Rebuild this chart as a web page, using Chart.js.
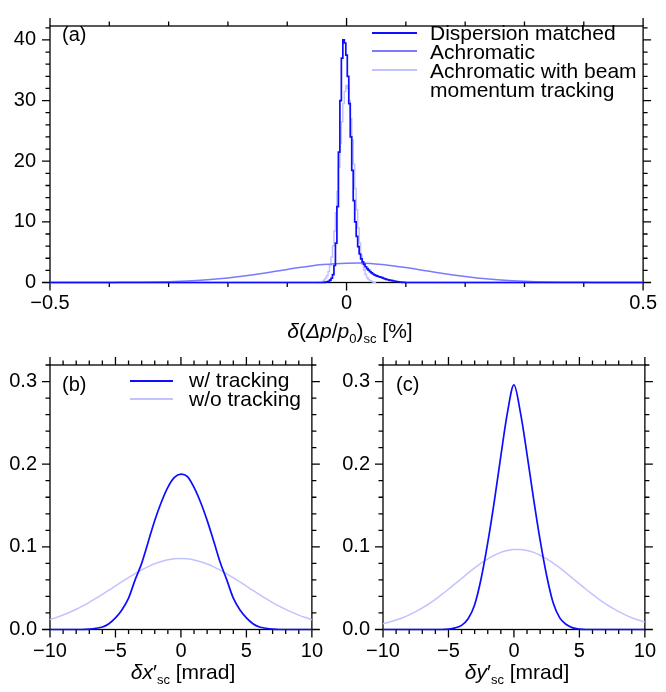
<!DOCTYPE html>
<html>
<head>
<meta charset="utf-8">
<script src="https://cdn.jsdelivr.net/npm/chart.js@4.4.1/dist/chart.umd.min.js"></script>
<style>
  body { margin: 0; background: #fff; font-family: 'Liberation Sans', Arial, sans-serif; color: #000; }
  #wrap { position: relative; width: 666px; height: 692px; overflow: hidden; }
  canvas { position: absolute; }
  .txt { position: absolute; font-size: 21px; line-height: 19px; white-space: nowrap; }
  .lbl { position: absolute; font-size: 20px; line-height: 20px; white-space: nowrap; }
  .ttl { position: absolute; font-size: 21px; line-height: 21px; white-space: nowrap; text-align: center; }
  .sub { font-size: 13px; position: relative; top: 5px; }
  .sw { position: absolute; height: 2px; z-index: 2; }
</style>
</head>
<body>
<div id="wrap">
  <canvas id="chart-a" width="666" height="320" style="left:0;top:0"></canvas>
  <canvas id="chart-b" width="333" height="352" style="left:0;top:340px"></canvas>
  <canvas id="chart-c" width="333" height="352" style="left:333px;top:340px"></canvas>

  <!-- panel (a) -->
  <div class="lbl" style="left:62px;top:24px">(a)</div>
  <div class="txt" style="left:430px;top:23px">Dispersion matched<br>Achromatic<br>Achromatic with beam<br>momentum tracking</div>
  <div class="sw" style="left:372px;top:32px;width:45px;background-color:#0d0dff"></div>
  <div class="sw" style="left:372px;top:50px;width:45px;background-color:#7a7aff"></div>
  <div class="sw" style="left:372px;top:69px;width:45px;background-color:#c2c2ff"></div>
  <div class="ttl" style="left:250px;width:200px;top:320px"><i>δ</i>(<i>Δp</i>/<i>p</i><span class="sub">0</span>)<span class="sub">sc</span> [%]</div>

  <!-- panel (b) -->
  <div class="lbl" style="left:62px;top:374px">(b)</div>
  <div class="txt" style="left:189px;top:371px;line-height:18.5px">w/ tracking<br>w/o tracking</div>
  <div class="sw" style="left:130px;top:380px;width:43px;background-color:#0d0dff"></div>
  <div class="sw" style="left:130px;top:398px;width:43px;background-color:#c2c2ff"></div>
  <div class="ttl" style="left:83px;width:200px;top:661px"><i>δx</i>′<span class="sub">sc</span> [mrad]</div>

  <!-- panel (c) -->
  <div class="lbl" style="left:396px;top:374px">(c)</div>
  <div class="ttl" style="left:417px;width:200px;top:661px"><i>δy</i>′<span class="sub">sc</span> [mrad]</div>
</div>

<script>
/* ── data: panel (a), δ(Δp/p0)sc [%] ── */
const aTicksX = [-0.5, 0, 0.5];
const aTicksY = [0, 10, 20, 30, 40];

// fine histogram bins near the peak
const aFineStart = -0.05;
const aFineWidth = 0.0025;
const aDispersionMatched = [
  0, 0, 0, 0, 0, 0.02, 0.05, 0.1, 0.2, 0.4,
  0.7, 1.3, 2.8, 6.5, 12.5, 21.5, 30, 37, 40, 39.5,
  37.5, 34, 29.5, 24, 18.5, 13.5, 10, 7.6, 5.9, 4.7,
  3.9, 3.4, 3.0, 2.6, 2.3, 2.05, 1.8, 1.6, 1.4, 1.25,
  1.15, 1.05, 0.95, 0.87, 0.8, 0.7, 0.6, 0.52, 0.45, 0.4,
  0.35, 0.3, 0.25, 0.2, 0.15, 0.11, 0.08, 0.05, 0.03, 0.01, 0
];
const aAchroTracking = [
  0, 0.02, 0.05, 0.1, 0.2, 0.4, 0.7, 1.1, 1.8, 2.8,
  4.2, 6.0, 8.5, 11.5, 15, 19, 23, 26.5, 29.5, 31.5,
  32.5, 32, 30, 27, 23.5, 19.5, 15.5, 12, 9, 6.5,
  4.5, 3.0, 2.0, 1.3, 0.8, 0.5, 0.3, 0.2, 0.1, 0.05, 0.02
];

// coarse bins for the wide distribution
const aCoarseStart = -0.5;
const aCoarseWidth = 0.02;
const aAchromatic = [
  0, 0, 0, 0.003, 0.006, 0.013, 0.022, 0.037, 0.06, 0.093,
  0.14, 0.21, 0.30, 0.42, 0.57, 0.76, 0.99, 1.25, 1.54, 1.85,
  2.16, 2.46, 2.73, 2.95, 3.11, 3.19, 3.20, 3.12, 2.95, 2.73,
  2.46, 2.16, 1.85, 1.54, 1.25, 0.99, 0.76, 0.57, 0.42, 0.30,
  0.21, 0.14, 0.093, 0.06, 0.037, 0.022, 0.013, 0.006, 0.003, 0, 0
];

/* ── data: panels (b) and (c), mrad ── */
const bcTicksX = [-10, -5, 0, 5, 10];
const bcTicksY = [0, 0.1, 0.2, 0.3];
const bcStart = -10;
const bcWidth = 0.5;

const bWithTracking = [
  0, 0, 0, 0, 0, 0, 0.0005, 0.0015, 0.003, 0.007,
  0.014, 0.024, 0.038, 0.060, 0.080, 0.106, 0.132, 0.154, 0.172, 0.184,
  0.188,
  0.185, 0.172, 0.154, 0.132, 0.107, 0.081, 0.060, 0.038, 0.024, 0.014,
  0.007, 0.003, 0.0015, 0.0005, 0, 0, 0, 0, 0, 0
];
const bWithoutTracking = [
  0.012, 0.0147, 0.0176, 0.0209, 0.0245, 0.0285, 0.0329, 0.0376, 0.0425, 0.0475,
  0.0527, 0.0578, 0.0628, 0.0677, 0.0721, 0.0761, 0.0795, 0.0823, 0.0844, 0.0856,
  0.086,
  0.0855, 0.0842, 0.082, 0.0792, 0.0758, 0.0718, 0.0674, 0.0625, 0.0575, 0.0524,
  0.0472, 0.0422, 0.0373, 0.0326, 0.0283, 0.0243, 0.0207, 0.0174, 0.0145, 0.0119
];
const cWithTracking = [
  0, 0, 0, 0, 0, 0, 0, 0, 0, 0,
  0.0005, 0.002, 0.005, 0.013, 0.03, 0.062, 0.105, 0.155, 0.21, 0.262,
  0.296,
  0.262, 0.212, 0.158, 0.108, 0.065, 0.032, 0.014, 0.006, 0.002, 0.0005,
  0, 0, 0, 0, 0, 0, 0, 0, 0, 0
];
const cWithoutTracking = [
  0.007, 0.009, 0.0114, 0.0143, 0.0177, 0.0216, 0.0261, 0.031, 0.0365, 0.0424,
  0.0487, 0.0552, 0.0617, 0.0683, 0.0745, 0.0803, 0.0854, 0.0898, 0.0933, 0.0956,
  0.0968,
  0.0968, 0.0956, 0.0933, 0.0898, 0.0854, 0.0803, 0.0745, 0.0683, 0.0617, 0.0552,
  0.0487, 0.0424, 0.0365, 0.031, 0.0261, 0.0216, 0.0177, 0.0143, 0.0114, 0.009
];

/* ── styles ── */
const DARK  = '#0d0dff';
const MID   = '#7a7aff';
const LIGHT = '#c2c2ff';

Chart.defaults.font.family = "'Liberation Sans', Arial, sans-serif";
Chart.defaults.font.size = 20;
Chart.defaults.color = '#000';

const hist = (start, width, vals) => vals.map((v, i) => ({ x: start + i * width, y: v }));
const minus = s => String(s).replace('-', '\u2212');

// frame + outward ticks on all four sides
const frameTicks = {
  id: 'frameTicks',
  beforeDatasetsDraw(chart, args, o) {
    const { ctx, chartArea: a, scales: { x, y } } = chart;
    ctx.save();
    ctx.strokeStyle = '#000';
    ctx.lineWidth = 1.3;
    ctx.strokeRect(a.left, a.top, a.right - a.left, a.bottom - a.top);
    ctx.beginPath();
    const mark = (sc, v, len) => {
      const p = sc.getPixelForValue(v);
      if (sc.isHorizontal()) {
        ctx.moveTo(p, a.bottom); ctx.lineTo(p, a.bottom + len);
        ctx.moveTo(p, a.top);    ctx.lineTo(p, a.top - len);
      } else {
        ctx.moveTo(a.left, p);  ctx.lineTo(a.left - len, p);
        ctx.moveTo(a.right, p); ctx.lineTo(a.right + len, p);
      }
    };
    [[x, o.xMinor], [y, o.yMinor]].forEach(([sc, step]) => {
      const n = Math.round((sc.max - sc.min) / step);
      for (let i = 0; i <= n; i++) mark(sc, sc.min + i * step, 4.5);
      sc.ticks.forEach(t => mark(sc, t.value, 8));
    });
    ctx.stroke();
    ctx.restore();
  }
};

function panelOptions(p) {
  return {
    responsive: false,
    animation: false,
    layout: { padding: p.padding },
    plugins: {
      legend: { display: false },
      tooltip: { enabled: false },
      frameTicks: { xMinor: p.xMinor, yMinor: p.yMinor },
    },
    elements: { point: { radius: 0 }, line: { borderWidth: 1.5 } },
    scales: {
      x: {
        type: 'linear', min: p.xMin, max: p.xMax,
        grid: { display: false, drawTicks: false },
        border: { display: false },
        afterBuildTicks: s => { s.ticks = p.xTicks.map(v => ({ value: v })); },
        afterFit: s => { s.height = p.xHeight; },
        ticks: { padding: p.xPad, maxRotation: 0, autoSkip: false, callback: v => minus(p.xFmt(v)) },
      },
      y: {
        type: 'linear', min: p.yMin, max: p.yMax,
        grid: { display: false, drawTicks: false },
        border: { display: false },
        afterBuildTicks: s => { s.ticks = p.yTicks.map(v => ({ value: v })); },
        afterFit: s => { s.width = 50; },
        ticks: { padding: p.yPad, autoSkip: false, callback: v => minus(p.yFmt(v)) },
      },
    },
  };
}

/* ── (a) ── */
new Chart(document.getElementById('chart-a'), {
  type: 'line',
  data: {
    datasets: [
      { label: 'Dispersion matched', borderColor: DARK, borderWidth: 1.7, stepped: 'middle', clip: false,
        data: [{ x: -0.5, y: 0 }, ...hist(aFineStart, aFineWidth, aDispersionMatched), { x: 0.5, y: 0 }] },
      { label: 'Achromatic', borderColor: MID, clip: false, cubicInterpolationMode: 'monotone',
        data: hist(aCoarseStart, aCoarseWidth, aAchromatic) },
      { label: 'Achromatic with beam momentum tracking', borderColor: LIGHT, stepped: 'middle', clip: false,
        data: hist(aFineStart, aFineWidth, aAchroTracking) },
    ],
  },
  options: panelOptions({
    padding: { left: 0, right: 16, top: 16, bottom: 0 },
    xMin: -0.5, xMax: 0.5, yMin: 0, yMax: 42.3,
    xTicks: aTicksX, yTicks: aTicksY, xMinor: 0.1, yMinor: 2,
    xHeight: 37.5, xPad: 9, yPad: 14,
    xFmt: v => String(v), yFmt: v => String(v),
  }),
  plugins: [frameTicks],
});

/* ── (b), (c) ── */
function mradPanel(id, withT, withoutT) {
  new Chart(document.getElementById(id), {
    type: 'line',
    data: {
      datasets: [
        { label: 'w/ tracking', borderColor: DARK, borderWidth: 1.7, clip: false,
          cubicInterpolationMode: 'monotone', data: hist(bcStart, bcWidth, withT) },
        { label: 'w/o tracking', borderColor: LIGHT, clip: false,
          cubicInterpolationMode: 'monotone', data: hist(bcStart, bcWidth, withoutT) },
      ],
    },
    options: panelOptions({
      padding: { left: 0, right: 17, top: 23, bottom: 0 },
      xMin: -10, xMax: 10, yMin: 0, yMax: 0.32,
      xTicks: bcTicksX, yTicks: bcTicksY, xMinor: 1, yMinor: 0.02,
      xHeight: 62.5, xPad: 10, yPad: 13,
      xFmt: v => String(v), yFmt: v => v.toFixed(1),
    }),
    plugins: [frameTicks],
  });
}
mradPanel('chart-b', bWithTracking, bWithoutTracking);
mradPanel('chart-c', cWithTracking, cWithoutTracking);
</script>
</body>
</html>
